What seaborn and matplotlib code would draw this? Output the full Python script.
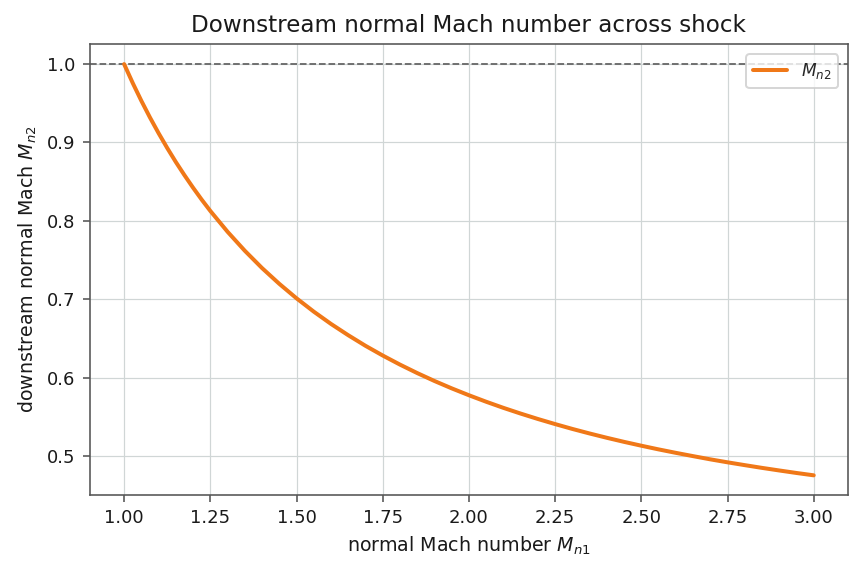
import numpy as np
import pandas as pd
import seaborn as sns
import matplotlib.pyplot as plt

# values
mn1 = [1.000, 1.025, 1.050, 1.075, 1.100, 1.125, 1.150, 1.175, 1.200, 1.225, 1.250,
       1.30, 1.35, 1.40, 1.45, 1.50, 1.55, 1.60, 1.65, 1.70, 1.75,
       1.80, 1.85, 1.90, 1.95, 2.00, 2.05, 2.10, 2.15, 2.20, 2.25,
       2.30, 2.35, 2.40, 2.45, 2.50, 2.55, 2.60, 2.65, 2.70, 2.75,
       2.80, 2.85, 2.90, 2.95, 3.00]
mn2 = [1.0000, 0.9758, 0.9531, 0.9318, 0.9118, 0.8929, 0.8750, 0.8582, 0.8422, 0.8270, 0.8126,
       0.7860, 0.7618, 0.7397, 0.7196, 0.7011, 0.6841, 0.6684, 0.6540, 0.6405, 0.6281,
       0.6165, 0.6057, 0.5956, 0.5862, 0.5774, 0.5691, 0.5613, 0.5540, 0.5471, 0.5406,
       0.5344, 0.5286, 0.5231, 0.5179, 0.5130, 0.5083, 0.5039, 0.4997, 0.4956, 0.4918,
       0.4882, 0.4847, 0.4814, 0.4782, 0.4752]

df = pd.DataFrame({'Mn1': mn1, 'Mn2': mn2})

sns.set_style('ticks', {'axes.edgecolor': '#555555', 'xtick.color': '#555555',
                        'ytick.color': '#555555'})
plt.rcParams['font.family'] = ['DejaVu Sans']

fig, ax = plt.subplots(figsize=(862 / 144, 573 / 144), dpi=144)
fig.subplots_adjust(left=0.104, right=0.984, top=0.923, bottom=0.136)
ax.grid(True, color='#d0d6d6', linewidth=0.6)
ax.axhline(1.0, color='#666666', linestyle='--', linewidth=0.9)
sns.lineplot(data=df, x='Mn1', y='Mn2', color='#f07818', linewidth=2,
             label=r'$M_{n2}$', ax=ax)

ax.set_xticks([1.0, 1.25, 1.5, 1.75, 2.0, 2.25, 2.5, 2.75, 3.0])
ax.set_xlim(0.9, 3.1)
ax.set_ylim(0.450, 1.0255)
ax.tick_params(labelsize=9, labelcolor='#1a1a1a')
ax.set_xlabel(r'normal Mach number $M_{n1}$', fontsize=9.5, color='#1a1a1a')
ax.set_ylabel(r'downstream normal Mach $M_{n2}$', fontsize=9.5, color='#1a1a1a')
ax.set_title('Downstream normal Mach number across shock', fontsize=11.5, color='#1a1a1a')
ax.legend(loc='upper right', fontsize=8.5, borderaxespad=0.6)

plt.savefig('out.png')
